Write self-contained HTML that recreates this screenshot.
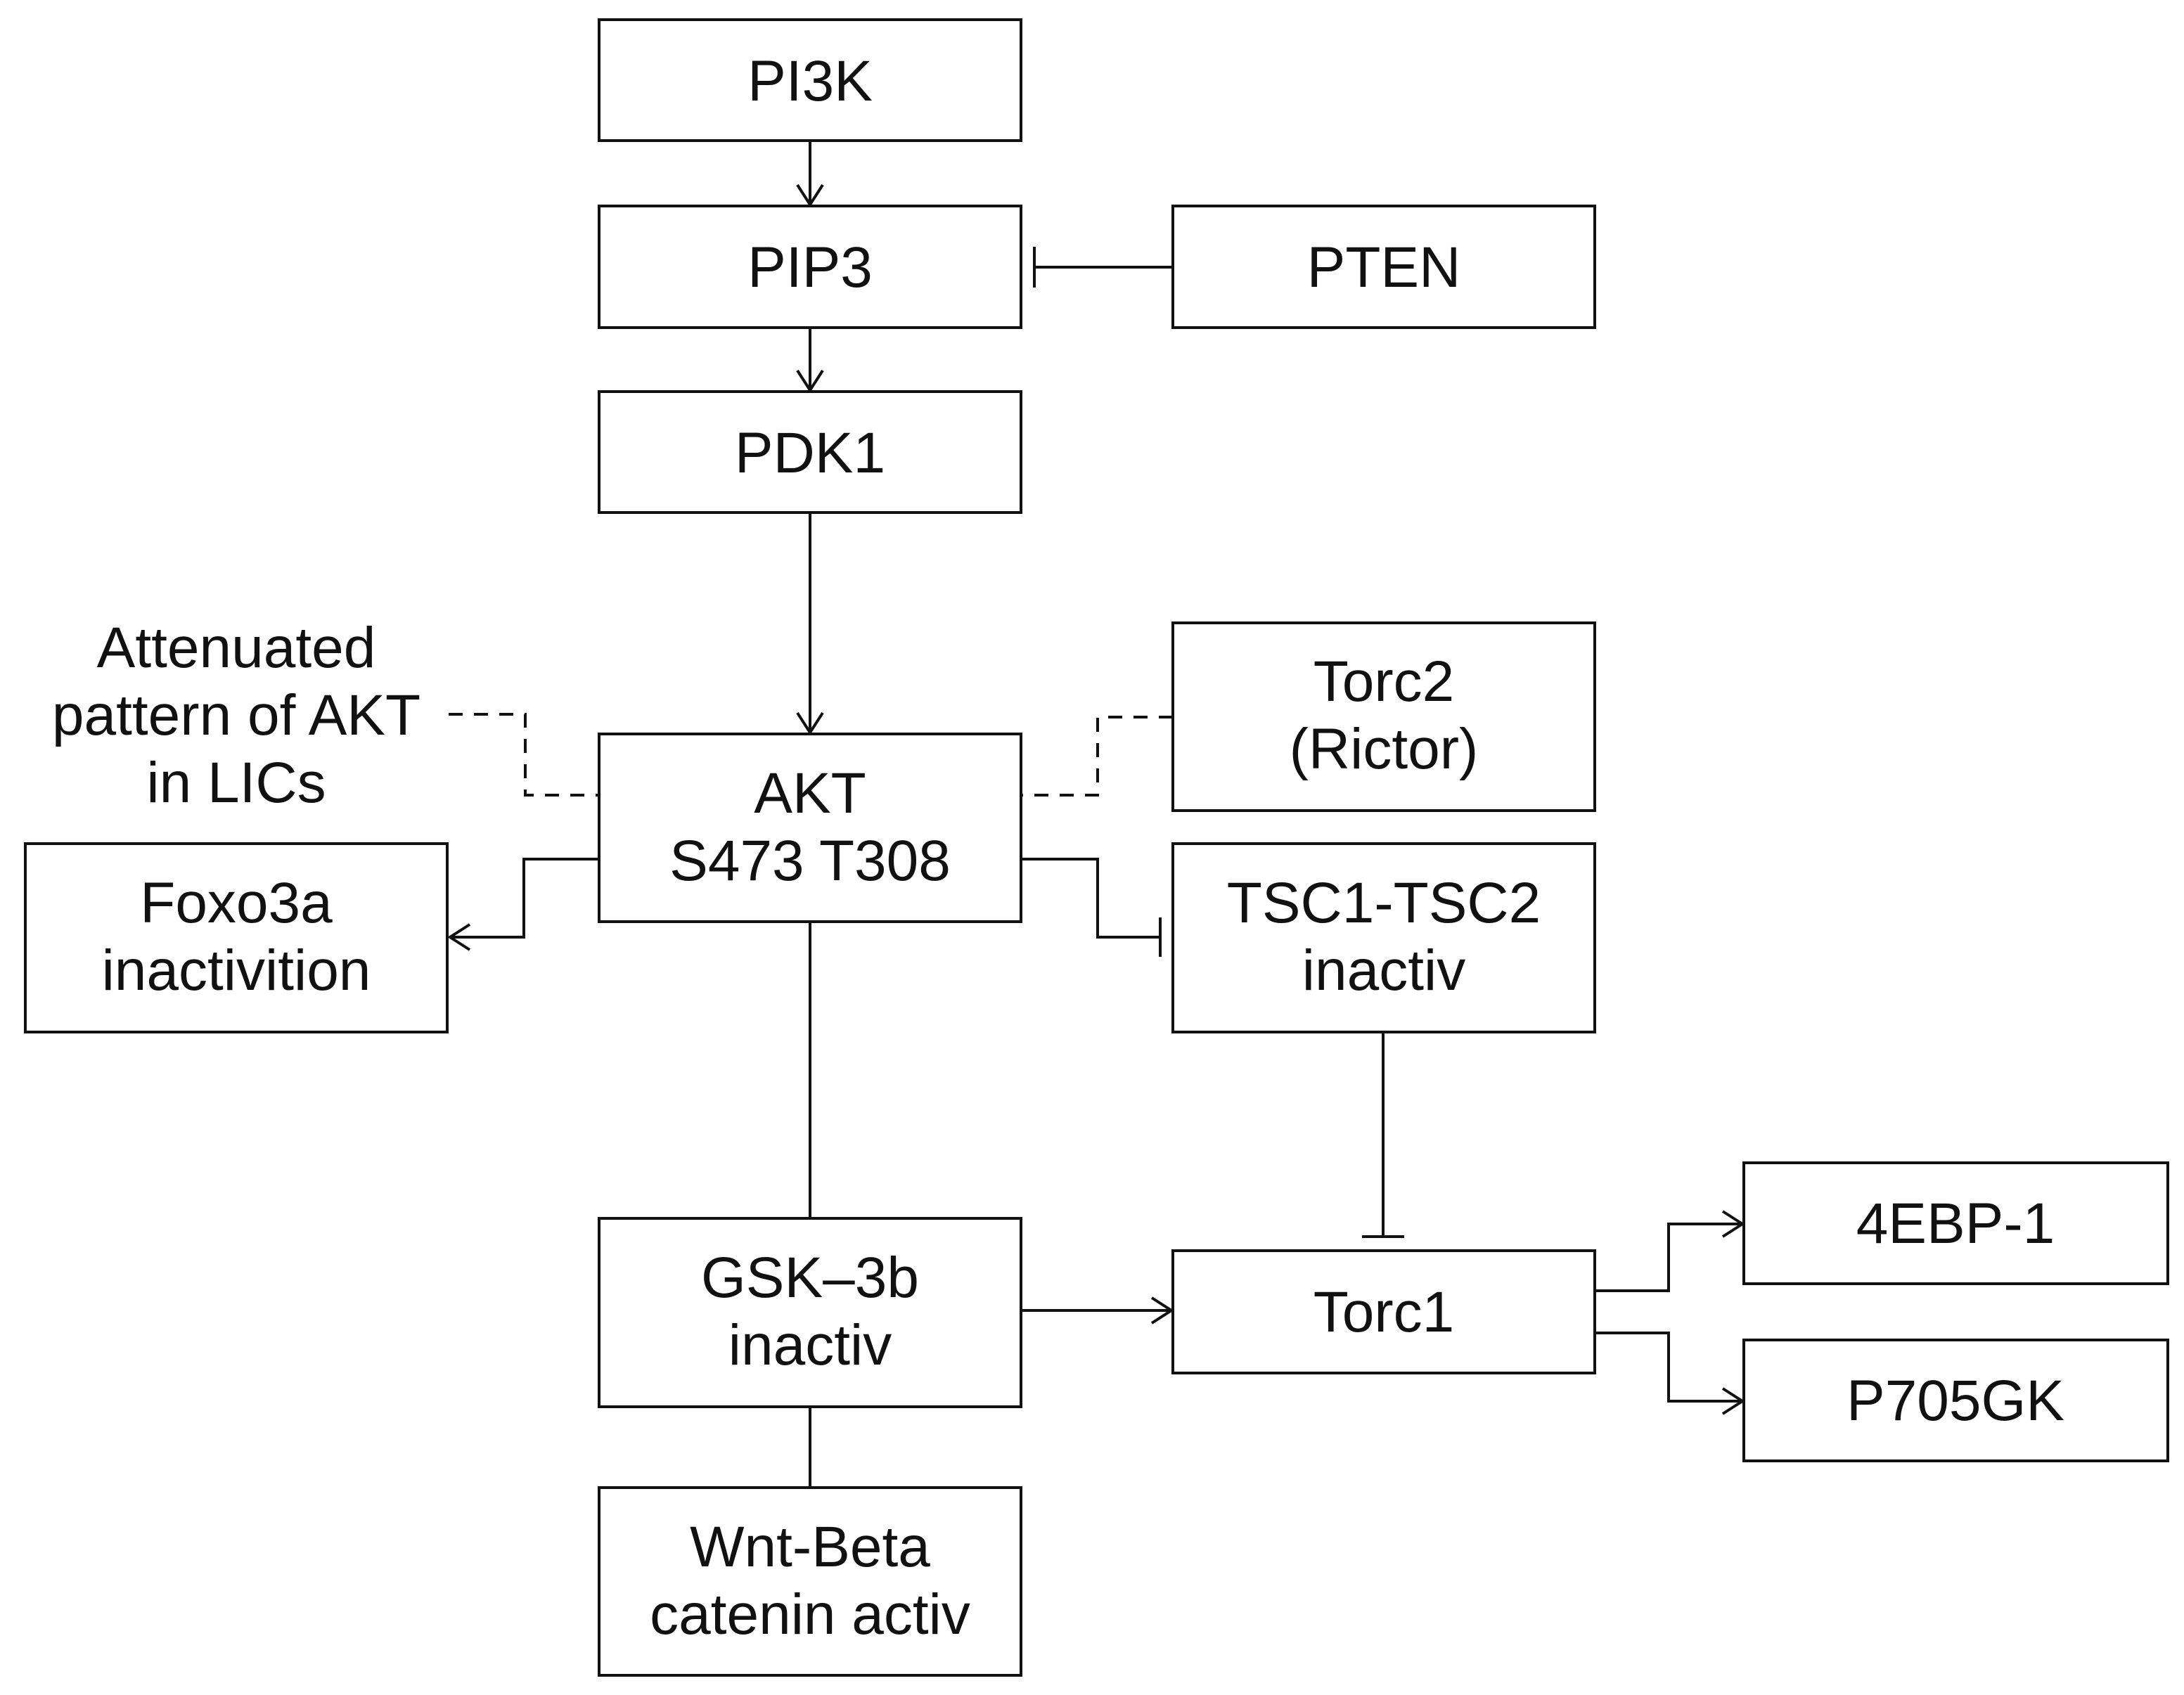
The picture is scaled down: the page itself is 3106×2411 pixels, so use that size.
<!DOCTYPE html>
<html><head><meta charset="utf-8"><style>html,body{margin:0;padding:0;background:#fff}svg{display:block}</style></head>
<body>
<svg width="3106" height="2411" viewBox="0 0 3106 2411" xmlns="http://www.w3.org/2000/svg">
<defs>
<marker id="a" markerWidth="60" markerHeight="40" refX="30" refY="20" orient="auto" markerUnits="userSpaceOnUse" viewBox="0 0 60 40">
<path d="M2,2 L30,20 L2,38" fill="none" stroke="#111" stroke-width="4"/>
</marker>
</defs>
<g fill="#fff" stroke="#111" stroke-width="4">
<rect x="852" y="28" width="600" height="172"/>
<rect x="852" y="293" width="600" height="173"/>
<rect x="1668" y="293" width="600" height="173"/>
<rect x="852" y="557" width="600" height="172"/>
<rect x="852" y="1044" width="600" height="267"/>
<rect x="1668" y="886" width="600" height="267"/>
<rect x="36" y="1200" width="600" height="268"/>
<rect x="1668" y="1200" width="600" height="268"/>
<rect x="852" y="1733" width="600" height="268"/>
<rect x="1668" y="1779" width="600" height="174"/>
<rect x="2480" y="1654" width="603" height="172"/>
<rect x="2480" y="1906" width="603" height="172"/>
<rect x="852" y="2116" width="600" height="267"/>
</g>
<g fill="none" stroke="#111" stroke-width="4">
<line x1="1152" y1="200" x2="1152" y2="291" marker-end="url(#a)"/>
<line x1="1152" y1="466" x2="1152" y2="555" marker-end="url(#a)"/>
<line x1="1152" y1="729" x2="1152" y2="1042" marker-end="url(#a)"/>
<line x1="1471" y1="380" x2="1668" y2="380"/>
<line x1="1471" y1="351" x2="1471" y2="409"/>
<polyline points="852,1222 745,1222 745,1333 640,1333" marker-end="url(#a)"/>
<polyline points="1452,1222 1561,1222 1561,1333 1650,1333"/>
<line x1="1650" y1="1305" x2="1650" y2="1361"/>
<line x1="1152" y1="1311" x2="1152" y2="1733"/>
<line x1="1967" y1="1468" x2="1967" y2="1759"/>
<line x1="1937" y1="1759" x2="1997" y2="1759"/>
<line x1="1452" y1="1864" x2="1666" y2="1864" marker-end="url(#a)"/>
<polyline points="2268,1836 2373,1836 2373,1741 2478,1741" marker-end="url(#a)"/>
<polyline points="2268,1896 2373,1896 2373,1993 2478,1993" marker-end="url(#a)"/>
<line x1="1152" y1="2001" x2="1152" y2="2116"/>
<g stroke-dasharray="20,16">
<polyline points="638,1016 747,1016 747,1131 852,1131"/>
<polyline points="1668,1020 1561,1020 1561,1131 1452,1131"/>
</g>
</g>
<g font-family="'Liberation Sans', sans-serif" font-size="82" fill="#111" text-anchor="middle">
<text x="1152" y="143">PI3K</text>
<text x="1152" y="408">PIP3</text>
<text x="1968" y="408">PTEN</text>
<text x="1152" y="672">PDK1</text>
<text x="1152" y="1156">AKT</text>
<text x="1152" y="1252">S473 T308</text>
<text x="1968" y="997">Torc2</text>
<text x="1968" y="1093">(Rictor)</text>
<text x="336" y="1312">Foxo3a</text>
<text x="336" y="1408">inactivition</text>
<text x="1968" y="1312">TSC1-TSC2</text>
<text x="1968" y="1408">inactiv</text>
<text x="1152" y="1845">GSK–3b</text>
<text x="1152" y="1941">inactiv</text>
<text x="1968" y="1894">Torc1</text>
<text x="2781" y="1768">4EBP-1</text>
<text x="2781" y="2020">P705GK</text>
<text x="1152" y="2228">Wnt-Beta</text>
<text x="1152" y="2324">catenin activ</text>
<text x="336" y="949">Attenuated</text>
<text x="336" y="1045">pattern of AKT</text>
<text x="336" y="1141">in LICs</text>
</g>
</svg>
</body></html>
